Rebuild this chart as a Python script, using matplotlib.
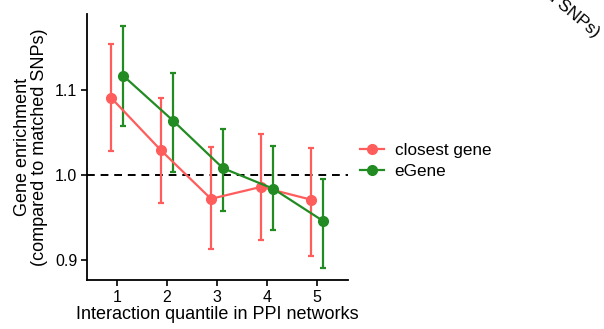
import numpy as np
import matplotlib
matplotlib.use("Agg")
import matplotlib.pyplot as plt
from matplotlib.lines import Line2D

plt.rcParams['font.family'] = ['Liberation Sans', 'DejaVu Sans']

quantiles = [1, 2, 3, 4, 5]
series = ['closest gene', 'eGene']
colors = ['#FF5C5C', '#228B22']

closest_mean = [1.091, 1.029, 0.972, 0.986, 0.971]
closest_lo = [1.028, 0.967, 0.913, 0.924, 0.905]
closest_hi = [1.154, 1.091, 1.033, 1.048, 1.032]

egene_mean = [1.117, 1.064, 1.008, 0.984, 0.946]
egene_lo = [1.058, 1.004, 0.958, 0.935, 0.891]
egene_hi = [1.175, 1.120, 1.054, 1.034, 0.995]

means = [closest_mean, egene_mean]
los = [closest_lo, egene_lo]
his = [closest_hi, egene_hi]
offsets = [-0.12, 0.12]

fig = plt.figure(figsize=(6.04, 3.29), dpi=100)
ax = fig.add_axes([87/604, 1-280/329, (348-87)/604, (280-14)/329])

x = np.array(quantiles, dtype=float)
for m, lo, hi, c, off in zip(means, los, his, colors, offsets):
    m = np.array(m); lo = np.array(lo); hi = np.array(hi)
    ax.errorbar(x + off, m, yerr=[m - lo, hi - m], fmt='none', ecolor=c,
                elinewidth=1.6, capsize=2.3, capthick=1.6, zorder=2)
    ax.plot(x + off, m, color=c, lw=1.6, marker='o', ms=7, zorder=3)

ax.axhline(1.0, color='black', ls=(0, (4, 3)), lw=1.4, zorder=1)

ax.set_xlim(0.4, 5.62)
ax.set_ylim(0.8765, 1.1894)
ax.set_xticks(quantiles)
ax.set_yticks([0.9, 1.0, 1.1])
ax.set_yticklabels(['0.9', '1.0', '1.1'])
for s in ['top', 'right']:
    ax.spines[s].set_visible(False)
for s in ['left', 'bottom']:
    ax.spines[s].set_linewidth(1.3)
ax.tick_params(length=4, width=1.2, labelsize=11.5, colors='black', pad=3)
ax.set_xlabel('Interaction quantile in PPI networks', fontsize=13, labelpad=1)
ax.set_ylabel('Gene enrichment\n(compared to matched SNPs)', fontsize=13,
              labelpad=5, linespacing=1.0)

handles = [Line2D([], [], color=c, lw=1.6, marker='o', ms=7) for c in colors]
fig.legend(handles, series, loc='center left', frameon=False,
           bbox_to_anchor=(345/604, 1-161/329), fontsize=12.3,
           handlelength=1.4, handletextpad=0.6, labelspacing=0.35)

# stray rotated label clipped at the top-right edge
fig.text(593/604, 1-40/329, '(compared to matched SNPs)', rotation=-40,
         ha='right', va='bottom', fontsize=12.5, rotation_mode='anchor')

fig.savefig('out.png', dpi=100)
